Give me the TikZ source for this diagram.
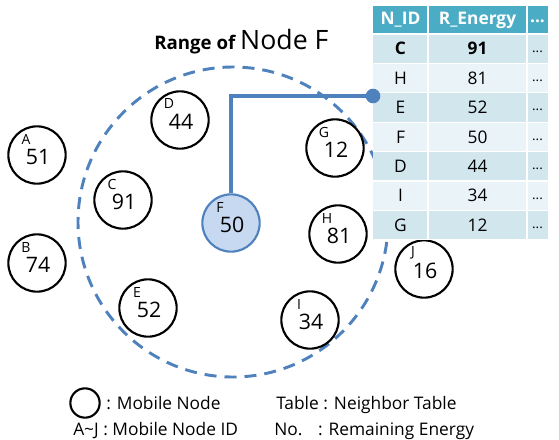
\documentclass[tikz,border=0pt]{standalone}
\usepackage{fontspec}
\setmainfont{Open Sans}
\definecolor{rangeblue}{HTML}{4F81BD}
\definecolor{ffill}{HTML}{C6D9F1}
\definecolor{thead}{HTML}{4BACC6}
\definecolor{rowdark}{HTML}{D2E6EE}
\definecolor{rowlight}{HTML}{EAF4F8}
\tikzset{
  mnode/.style={circle,draw=black,line width=1.6pt,minimum size=43pt,inner sep=0pt},
  fnode/.style={circle,draw=rangeblue,fill=ffill,line width=1.6pt,minimum size=43pt,inner sep=0pt},
  numtxt/.style={inner sep=0pt,font=\fontsize{16}{18}\selectfont},
  idtxt/.style={inner sep=0pt,font=\fontsize{10.5}{12}\selectfont},
  celltxt/.style={inner sep=0pt,font=\fontsize{13}{15}\selectfont},
  cellbold/.style={inner sep=0pt,font=\fontsize{13}{15}\selectfont\bfseries},
  legtxt/.style={inner sep=0pt,anchor=base west,font=\fontsize{13}{15}\selectfont},
}
\newcommand{\mobnode}[5][mnode]{%
  \node[#1] (#2) at (#3) {};
  \node[numtxt] (#2num) at ($(#2)+(1,2)$) {#5};
  \node[idtxt] (#2id) at ($(#2)+(-11,-16)$) {#4};
}
\usetikzlibrary{calc}
\begin{document}
\begin{tikzpicture}[x=0.75pt,y=-0.75pt]
\useasboundingbox (0,0) rectangle (559,439);
% range circle
\draw[rangeblue,line width=2.2pt,dash pattern=on 9pt off 6pt] (233,222) circle[radius=155];
% title
\node[inner sep=0pt,anchor=base west] (title) at (154,49)
  {\fontsize{14}{16}\selectfont\bfseries Range of \fontsize{20}{22}\selectfont\mdseries Node F};
% nodes
\mobnode{A}{37,155}{A}{51}
\mobnode{B}{37,263}{B}{74}
\mobnode{C}{123,200}{C}{91}
\mobnode{D}{180,120}{D}{44}
\mobnode{E}{148,308}{E}{52}
\mobnode[fnode]{F}{231,223}{F}{50}
\mobnode{G}{335,148}{G}{12}
\mobnode{H}{338,234}{H}{81}
\mobnode{I}{310,320}{I}{34}
\mobnode{J}{424,269}{J}{16}
% table
\fill[thead] (373,6) rectangle (548,34);
\foreach \i/\c in {0/rowdark,1/rowlight,2/rowdark,3/rowlight,4/rowdark,5/rowlight,6/rowdark}{
  \fill[\c] (373,{34+\i*29.4}) rectangle (548,{34+(\i+1)*29.4});
}
\foreach \x in {428,527}{\draw[white,line width=0.9pt] (\x,6) -- (\x,240);}
\foreach \i in {0,...,7}{\draw[white,line width=0.9pt] (373,{34+\i*29.4}) -- (548,{34+\i*29.4});}
\node[cellbold,text=white] (h1) at (400.5,20) {N\_ID};
\node[cellbold,text=white] (h2) at (477.5,20) {R\_Energy};
\node[cellbold,text=white] (h3) at (537.5,21) {...};
\foreach \i/\n/\v in {0/C/91,1/H/81,2/E/52,3/F/50,4/D/44,5/I/34,6/G/12}{
  \ifnum\i=0
    \node[cellbold] (r\i a) at (400.5,{48.7+\i*29.4}) {\n};
    \node[cellbold] (r\i b) at (477.5,{48.7+\i*29.4}) {\v};
  \else
    \node[celltxt] (r\i a) at (400.5,{48.7+\i*29.4}) {\n};
    \node[celltxt] (r\i b) at (477.5,{48.7+\i*29.4}) {\v};
  \fi
  \node[inner sep=0pt,font=\fontsize{10}{11}\selectfont] (r\i c) at (537.5,{51.5+\i*29.4}) {...};
}
% connector
\node[circle,fill=rangeblue,minimum size=11pt,inner sep=0pt] (dot) at (373,96) {};
\draw[rangeblue,line width=2.3pt] (F.north) |- (dot.center);
% legend
\node[circle,draw=black,line width=1.6pt,minimum size=22pt,inner sep=0pt] (lc) at (85,403) {};
\node[legtxt] (l1) at (106,409) {: Mobile Node};
\node[legtxt] (l2) at (276,409) {Table : Neighbor Table};
\node[legtxt] (l3) at (73,435) {A\textasciitilde J : Mobile Node ID};
\node[legtxt] (l4) at (274,435) {No.\hspace{0.9em}: Remaining Energy};
\end{tikzpicture}
\end{document}
